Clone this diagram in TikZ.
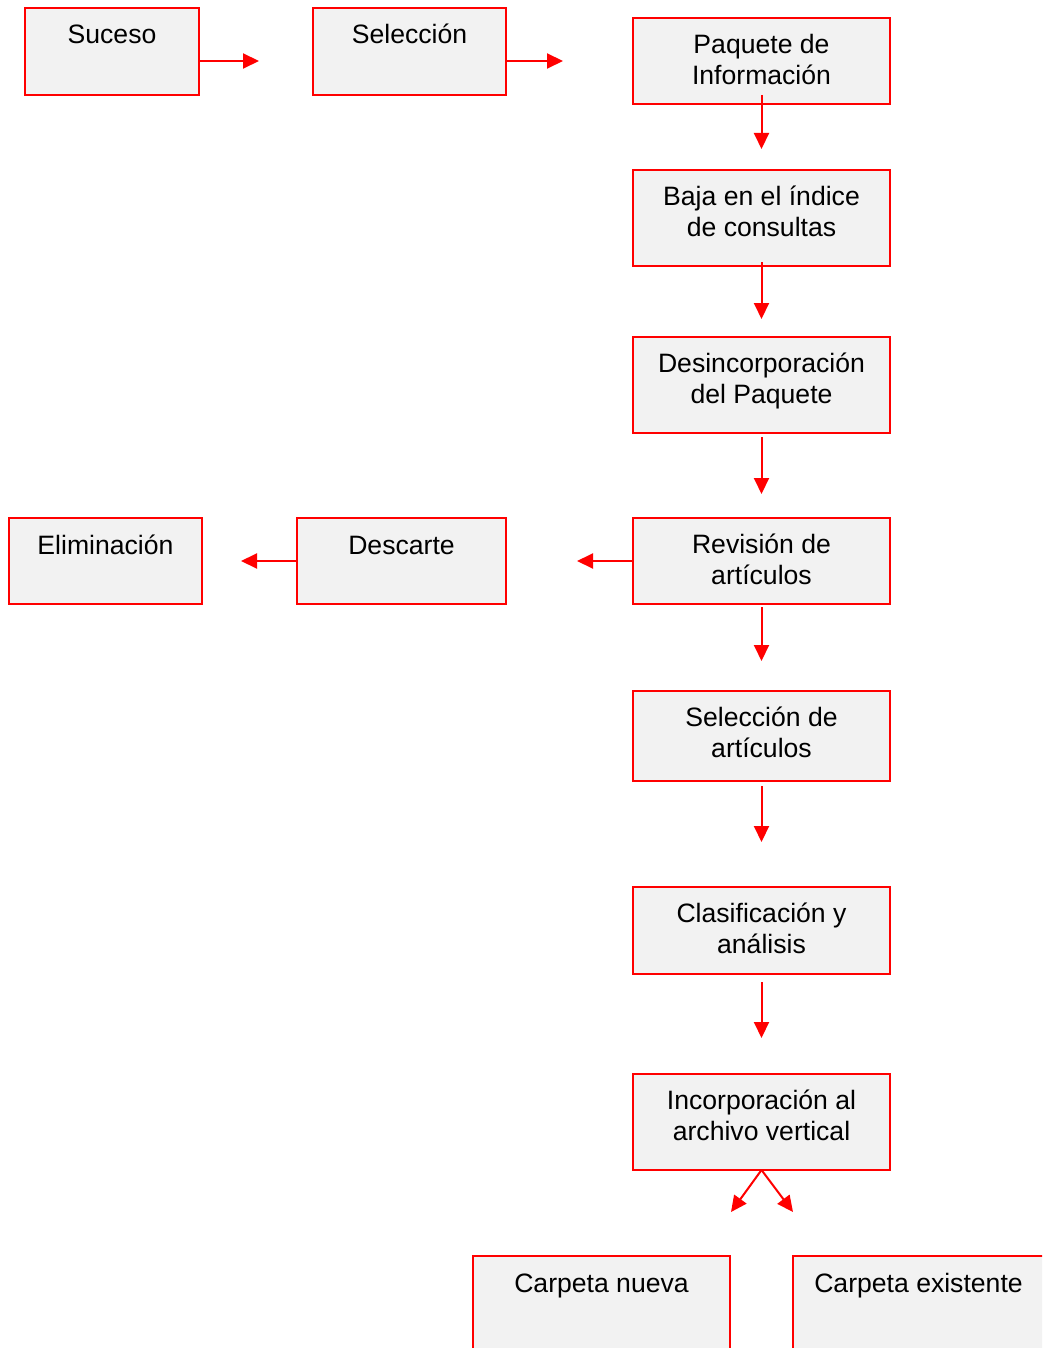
\documentclass[tikz,border=0pt]{standalone}
\usepackage{fontspec}
\setmainfont{Liberation Sans}
\usetikzlibrary{arrows.meta}
\definecolor{boxfill}{HTML}{F2F2F2}
\definecolor{flowred}{HTML}{FF0000}
\newcommand\boxlines[1]{\parbox[t]{260pt}{\centering #1}}
\tikzset{
  stepbox/.style={draw=flowred, fill=boxfill, line width=1.6pt, rectangle,
    inner sep=0pt, outer sep=0pt},
  boxtxt/.style={anchor=base, inner sep=0pt, text=black,
    font=\fontsize{26.6pt}{30.8pt}\selectfont},
  flow/.style={draw=flowred, line width=2pt,
    -{Triangle[length=16pt,width=15pt]}},
}
\begin{document}
\begin{tikzpicture}[x=1pt,y=-1pt]
\useasboundingbox (0,0) rectangle (1042,1348);
\clip (0,0) rectangle (1042,1348);

% top row
\node[stepbox, minimum width=174pt, minimum height=87pt] (suceso) at (112,51.5) {};
\node[stepbox, minimum width=193pt, minimum height=87pt] (selec) at (409.5,51.5) {};
% main column
\node[stepbox, minimum width=257pt, minimum height=86pt] (paquete) at (761.5,61) {};
\node[stepbox, minimum width=257pt, minimum height=96pt] (baja) at (761.5,218) {};
\node[stepbox, minimum width=257pt, minimum height=96pt] (desinc) at (761.5,385) {};
\node[stepbox, minimum width=257pt, minimum height=86pt] (revision) at (761.5,561) {};
\node[stepbox, minimum width=257pt, minimum height=90pt] (selart) at (761.5,736) {};
\node[stepbox, minimum width=257pt, minimum height=87pt] (clasif) at (761.5,930.5) {};
\node[stepbox, minimum width=257pt, minimum height=96pt] (incorp) at (761.5,1122) {};
% discard branch
\node[stepbox, minimum width=209pt, minimum height=86pt] (descarte) at (401.5,561) {};
\node[stepbox, minimum width=193pt, minimum height=86pt] (elim) at (105.5,561) {};
% folders
\node[stepbox, minimum width=257pt, minimum height=120pt] (nueva) at (601.5,1316) {};
\node[stepbox, minimum width=251pt, minimum height=120pt] (existente) at (918.5,1316) {};

% box texts
\node[boxtxt] (t1) at ([yshift=-36pt]suceso.north) {\boxlines{Suceso}};
\node[boxtxt] (t2) at ([yshift=-36pt]selec.north) {\boxlines{Selección}};
\node[boxtxt] (t3) at ([yshift=-35.5pt]paquete.north) {\boxlines{Paquete de\\Información}};
\node[boxtxt] (t4) at ([yshift=-35.5pt]baja.north) {\boxlines{Baja en el índice\\de consultas}};
\node[boxtxt] (t5) at ([yshift=-35.5pt]desinc.north) {\boxlines{Desincorporación\\del Paquete}};
\node[boxtxt] (t6) at ([yshift=-35.5pt]revision.north) {\boxlines{Revisión de\\artículos}};
\node[boxtxt] (t7) at ([yshift=-36pt]descarte.north) {\boxlines{Descarte}};
\node[boxtxt] (t8) at ([yshift=-36pt]elim.north) {\boxlines{Eliminación}};
\node[boxtxt] (t9) at ([yshift=-35.5pt]selart.north) {\boxlines{Selección de\\artículos}};
\node[boxtxt] (t10) at ([yshift=-35.5pt]clasif.north) {\boxlines{Clasificación y\\análisis}};
\node[boxtxt] (t11) at ([yshift=-35.5pt]incorp.north) {\boxlines{Incorporación al\\archivo vertical}};
\node[boxtxt] (t12) at ([yshift=-36pt]nueva.north) {\boxlines{Carpeta nueva}};
\node[boxtxt] (t13) at ([yshift=-36pt]existente.north) {\boxlines{Carpeta existente}};

% connectors
\draw[flow, shorten >=54pt] ([yshift=-9.5pt]suceso.east) -- ([yshift=-9.5pt]selec.west);
\draw[flow, shorten >=70pt] ([yshift=-9.5pt]selec.east) -- (paquete.west);
\draw[flow, shorten <=-9pt, shorten >=21pt] (paquete.south) -- (baja.north);
\draw[flow, shorten <=-4pt, shorten >=18pt] (baja.south) -- (desinc.north);
\draw[flow, shorten <=4pt, shorten >=24pt] (desinc.south) -- (revision.north);
\draw[flow, shorten <=3pt, shorten >=30pt] (revision.south) -- (selart.north);
\draw[flow, shorten <=5pt, shorten >=45pt] (selart.south) -- (clasif.north);
\draw[flow, shorten <=8pt, shorten >=36pt] (clasif.south) -- (incorp.north);
\draw[flow, shorten >=71pt] (revision.west) -- (descarte.east);
\draw[flow, shorten >=39pt] (descarte.west) -- (elim.east);
\coordinate (toNueva) at (731,1212);
\coordinate (toExist) at (793,1212);
\draw[flow] (incorp.south) -- (toNueva);
\draw[flow] (incorp.south) -- (toExist);
\end{tikzpicture}
\end{document}
